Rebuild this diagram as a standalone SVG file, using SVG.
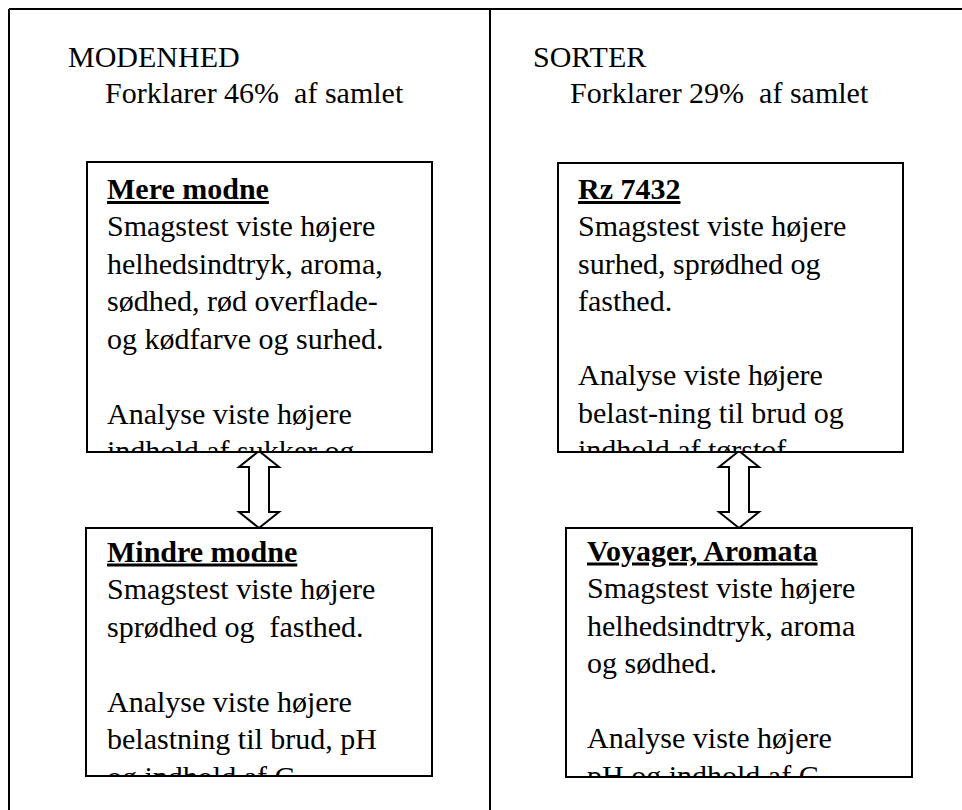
<svg xmlns="http://www.w3.org/2000/svg" width="962" height="810" viewBox="0 0 962 810">
<style>
text{font-family:"Liberation Serif","DejaVu Serif",serif;font-size:30px;fill:#000;white-space:pre}
.t{font-weight:bold;text-decoration:underline}
.box{fill:#fff;stroke:#000;stroke-width:2}
.frame{stroke:#000;stroke-width:2;fill:none}
.arr{fill:#fff;stroke:#000;stroke-width:2;stroke-linejoin:miter}
</style>
<defs>
<clipPath id="c1"><rect x="88" y="163" width="343" height="288"/></clipPath>
<clipPath id="c2"><rect x="559" y="164" width="343" height="287"/></clipPath>
<clipPath id="c3"><rect x="87" y="529" width="344" height="246"/></clipPath>
<clipPath id="c4"><rect x="567" y="529" width="344" height="247"/></clipPath>
</defs>
<g id="frame">
<line class="frame" x1="9" y1="9" x2="962" y2="9"/>
<line class="frame" x1="9" y1="9" x2="9" y2="810"/>
<line class="frame" x1="490" y1="9" x2="490" y2="810"/>
</g>
<g id="modenhed-header">
<text x="68" y="67">MODENHED</text>
<text x="105" y="103" xml:space="preserve">Forklarer 46%  af samlet</text>
</g>
<g id="sorter-header">
<text x="533" y="67">SORTER</text>
<text x="570" y="103" xml:space="preserve">Forklarer 29%  af samlet</text>
</g>
<g id="connectors">
<path class="arr" d="M259,451 L279,467 L269,467 L269,512 L279,512 L259,528 L239,512 L249,512 L249,467 L239,467 Z"/>
<path class="arr" d="M739,451 L759,467 L749,467 L749,512 L759,512 L739,528 L719,512 L729,512 L729,467 L719,467 Z"/>
</g>
<g id="mere-modne">
<rect class="box" x="87" y="162" width="345" height="290"/>
<g clip-path="url(#c1)">
<text class="t" x="107" y="199">Mere modne</text>
<text x="107" y="236">Smagstest viste højere</text>
<text x="107" y="273.5">helhedsindtryk, aroma,</text>
<text x="107" y="311">sødhed, rød overflade-</text>
<text x="107" y="348.5">og kødfarve og surhed.</text>
<text x="107" y="423.5">Analyse viste højere</text>
<text x="107" y="461">indhold af sukker og</text>
</g>
</g>
<g id="rz7432">
<rect class="box" x="558" y="163" width="345" height="289"/>
<g clip-path="url(#c2)">
<text class="t" x="578" y="199">Rz 7432</text>
<text x="578" y="236">Smagstest viste højere</text>
<text x="578" y="273.5">surhed, sprødhed og</text>
<text x="578" y="311">fasthed.</text>
<text x="578" y="385">Analyse viste højere</text>
<text x="578" y="422.5">belast-ning til brud og</text>
<text x="578" y="460">indhold af tørstof</text>
</g>
</g>
<g id="mindre-modne">
<rect class="box" x="86" y="528" width="346" height="248"/>
<g clip-path="url(#c3)">
<text class="t" x="107" y="561.5">Mindre modne</text>
<text x="107" y="599">Smagstest viste højere</text>
<text x="107" y="636.5" xml:space="preserve">sprødhed og  fasthed.</text>
<text x="107" y="711.5">Analyse viste højere</text>
<text x="107" y="749">belastning til brud, pH</text>
<text x="107" y="786.5">og indhold af C</text>
</g>
</g>
<g id="voyager-aromata">
<rect class="box" x="566" y="528" width="346" height="249"/>
<g clip-path="url(#c4)">
<text class="t" x="587" y="560.5">Voyager, Aromata</text>
<text x="587" y="598">Smagstest viste højere</text>
<text x="587" y="635.5">helhedsindtryk, aroma</text>
<text x="587" y="673">og sødhed.</text>
<text x="587" y="748">Analyse viste højere</text>
<text x="587" y="785.5">pH og indhold af C</text>
</g>
</g>
</svg>
